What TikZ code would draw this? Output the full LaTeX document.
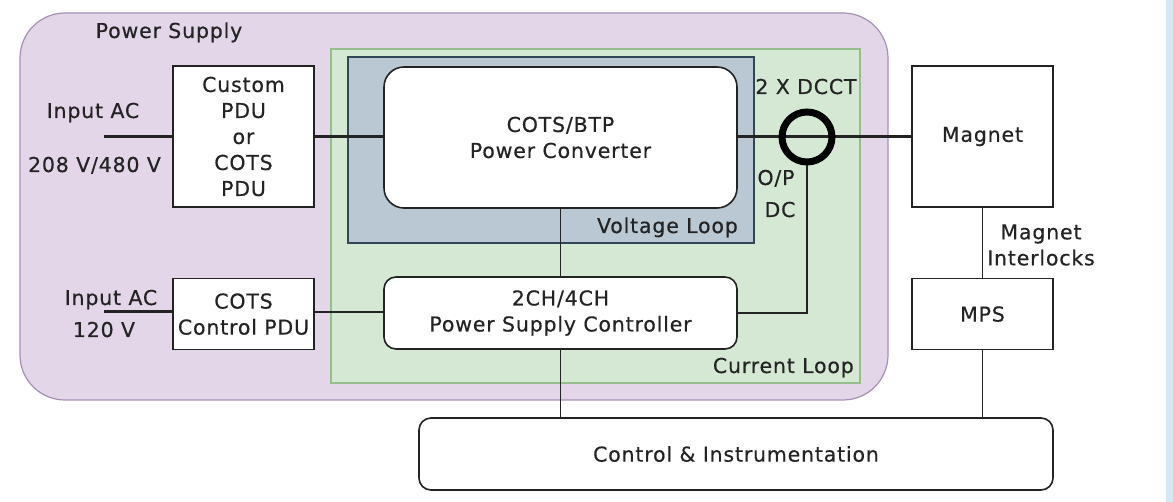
\documentclass[tikz,border=0pt]{standalone}
\usepackage{fontspec}
\setmainfont{DejaVu Sans}[LetterSpace=4, FakeBold=0.4]
\usetikzlibrary{positioning}
\definecolor{PsFill}{RGB}{226,214,232}
\definecolor{PsLine}{RGB}{165,145,180}
\definecolor{LoopFill}{RGB}{213,232,212}
\definecolor{LoopLine}{RGB}{150,190,140}
\definecolor{VoltFill}{RGB}{186,200,211}
\definecolor{VoltLine}{RGB}{50,70,90}
\definecolor{InkDark}{RGB}{35,35,35}
\definecolor{EdgeBlue}{RGB}{214,232,243}
\newcommand\boxfont{\fontsize{20.5}{26}\selectfont}

\begin{document}
\begin{tikzpicture}[
  x=1pt, y=-1pt,
  every node/.style={text=InkDark, font=\boxfont},
  area/.style={rectangle, inner sep=0pt, line width=1.2pt},
  block/.style={rectangle, draw=InkDark, fill=white, line width=1.6pt, inner sep=0pt, align=center},
  rblock/.style={block, rounded corners=12pt},
  power/.style={draw=InkDark, line width=3pt},
  signal/.style={draw=InkDark, line width=1.5pt},
  note/.style={inner sep=0pt, anchor=base}
]
  \useasboundingbox (0,0) rectangle (1173,502);
  \fill[EdgeBlue] (1166,0) rectangle (1173,502);

  % Background areas
  \node[area, draw=PsLine, fill=PsFill, rounded corners=45pt, minimum width=868pt, minimum height=387pt] (supply) at (454,206.5) {};
  \node[area, draw=LoopLine, fill=LoopFill, minimum width=529pt, minimum height=334pt] (current) at (595.5,216) {};
  \node[area, draw=VoltLine, fill=VoltFill, minimum width=406pt, minimum height=186pt] (voltage) at (551,150) {};

  % Nodes
  \node[block, minimum width=141pt, minimum height=141pt] (pdu) at (243.5,136.5) {Custom\\PDU\\or\\COTS\\PDU};
  \node[block, minimum width=141pt, minimum height=71pt, below=70pt of pdu] (ctlpdu) {COTS\\Control PDU};
  \node[rblock, rounded corners=20pt, minimum width=353pt, minimum height=141pt] (conv) at (560.5,137.5) {COTS/BTP\\Power Converter};
  \node[rblock, minimum width=353pt, minimum height=72pt] (ctrl) at (560.5,313) {2CH/4CH\\Power Supply Controller};
  \node[block, minimum width=141pt, minimum height=141pt] (magnet) at (982.5,136.5) {Magnet};
  \node[block, minimum width=141pt, minimum height=71pt, below=70pt of magnet] (mps) {MPS};
  \node[rblock, minimum width=634pt, minimum height=72pt] (ci) at (736,454) {Control \& Instrumentation};

  % Free ends
  \coordinate (acmain) at (104,137);
  \coordinate (acctl) at (104,312);

  % Lines
  \draw[power] (acmain) -- (pdu.west |- acmain);
  \draw[power] (pdu.east |- acmain) -- (conv.west |- acmain);
  \draw[power] (conv.east |- acmain) -- (magnet.west |- acmain);
  \node[circle, draw=black, line width=7pt, minimum size=50pt, inner sep=0pt] (dcct) at (807,137) {};
  \draw[signal] (dcct.south) |- (ctrl.east);
  \draw[signal] (conv.south) -- (ctrl.north);
  \draw[power] (acctl) -- (ctlpdu.west |- acctl);
  \draw[signal] (ctlpdu.east |- acctl) -- (ctrl.west |- acctl);
  \draw[signal] (ctrl.south) -- (ctrl.south |- ci.north);
  \draw[signal] (magnet) -- (mps);
  \draw[signal] (mps.south) -- (mps.south |- ci.north);

  % Labels
  \node[note] (pslabel) at (169,38) {Power Supply};
  \node[note] (acmaintop) at (93,118) {Input AC};
  \node[note] (acmainv) at (94.5,172) {208 V/480 V};
  \node[note] (acctltop) at (111,305) {Input AC};
  \node[note] (acctlv) at (104,337) {120 V};
  \node[note] (dcctlabel) at (806,94) {2 X DCCT};
  \node[note] (oplabel) at (776,185) {O/P};
  \node[note] (dclabel) at (780,217) {DC};
  \node[note, anchor=base east] (vlabel) at (738,233) {Voltage Loop};
  \node[note, anchor=base east] (clabel) at (854,373) {Current Loop};
  \node[note, anchor=center, align=center] (ilabel) at (1041,245) {Magnet\\Interlocks};
\end{tikzpicture}
\end{document}
